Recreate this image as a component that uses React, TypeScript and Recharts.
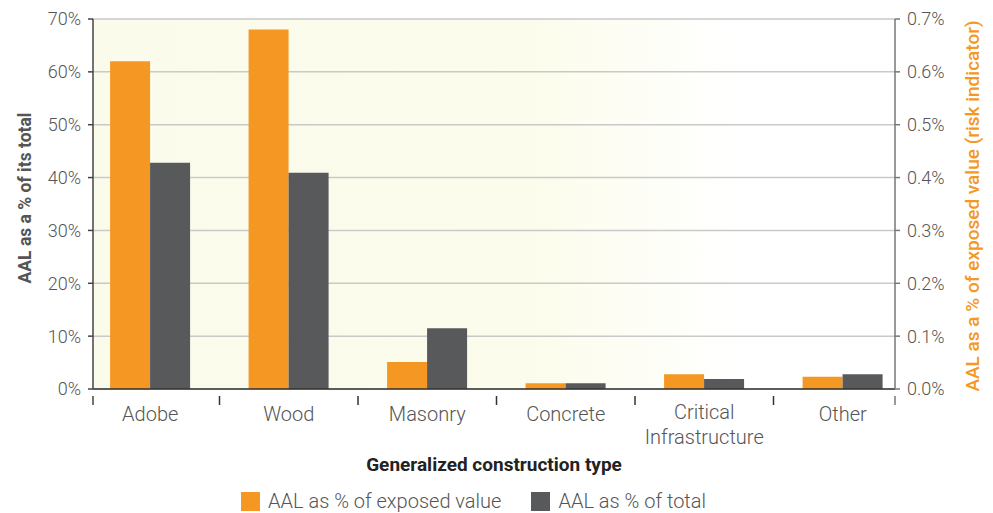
import React from 'react'
import { BarChart, Bar, XAxis, YAxis, CartesianGrid } from 'recharts'

// construction types and the two AAL measures
const categories = ['Adobe', 'Wood', 'Masonry', 'Concrete', 'Critical\nInfrastructure', 'Other']
const exposedValuePct = [0.62, 0.68, 0.051, 0.011, 0.028, 0.023]
const totalPct = [42.8, 40.9, 11.5, 1.1, 1.9, 2.8]
const leftTicks = [0, 10, 20, 30, 40, 50, 60, 70]
const rightTicks = [0, 0.1, 0.2, 0.3, 0.4, 0.5, 0.6, 0.7]

const seriesNames = ['AAL as % of exposed value', 'AAL as % of total']
const ORANGE = '#F49823'
const GRAY = '#58595B'
const FONT = 'Roboto, "DejaVu Sans", sans-serif'

const W = 993
const H = 513
const MARGIN = { top: 19, right: 43, bottom: 64, left: 43 }
const LEFT_W = 50
const RIGHT_W = 55
const X_H = 60
const PAD = { left: -12, right: -17 }
const PLOT_LEFT = MARGIN.left + LEFT_W
const PLOT_RIGHT = W - MARGIN.right - RIGHT_W
const HALF_BAND = (PLOT_RIGHT - PLOT_LEFT - PAD.left - PAD.right) / categories.length / 2

const data = categories.map((name, i) => ({
  name,
  exposed: exposedValuePct[i],
  total: totalPct[i],
}))

function CategoryTick(props: any) {
  const { x, y, payload, index } = props
  const lines = String(payload.value).split('\n')
  return (
    <g>
      {index > 0 && (
        <line x1={x - HALF_BAND} x2={x - HALF_BAND} y1={y - 1} y2={y + 8} stroke="#333" strokeWidth={1.5} />
      )}
      {index === 0 && <line x1={PLOT_LEFT} x2={PLOT_LEFT} y1={y - 1} y2={y + 8} stroke="#444" strokeWidth={1.5} />}
      {index === categories.length - 1 && (
        <line x1={PLOT_RIGHT} x2={PLOT_RIGHT} y1={y - 1} y2={y + 8} stroke="#777" strokeWidth={1.5} />
      )}
      {lines.map((l, k) => (
        <text
          key={k}
          x={x}
          y={y + (lines.length > 1 ? 22 : 24) + k * 25}
          textAnchor="middle"
          fill="#555"
          fontSize={20}
          fontWeight={300}
          fontFamily={FONT}
        >
          {l}
        </text>
      ))}
    </g>
  )
}

function AxisTitle({ viewBox, value, dx, dy = 0, color, size, weight }: any) {
  const cx = viewBox.x + dx
  const cy = viewBox.y + viewBox.height / 2 + dy
  return (
    <text
      x={cx}
      y={cy}
      transform={`rotate(-90 ${cx} ${cy})`}
      textAnchor="middle"
      dominantBaseline="central"
      fill={color}
      fontSize={size}
      fontWeight={weight}
      fontFamily={FONT}
    >
      {value}
    </text>
  )
}

export default function App() {
  const tickStyle = { fill: '#555', fontSize: 18, fontWeight: 300, fontFamily: FONT }
  return (
    <div style={{ position: 'absolute', left: 0, top: 0, width: W, height: H, background: '#fff' }}>
      <BarChart width={W} height={H} data={data} margin={MARGIN} barGap={0} barCategoryGap="21%">
        <defs>
          <linearGradient id="plotBg" x1="0" y1="0" x2="1" y2="0">
            <stop offset="0%" stopColor="#FBFBEC" />
            <stop offset="55%" stopColor="#FCFCEC" />
            <stop offset="80%" stopColor="#FFFFFF" />
          </linearGradient>
        </defs>
        <CartesianGrid
          yAxisId="left"
          vertical={false}
          stroke="#C9C9C9"
          strokeWidth={1.5}
          fill="url(#plotBg)"
          fillOpacity={1}
        />
        <XAxis
          dataKey="name"
          height={X_H}
          padding={PAD}
          interval={0}
          tickLine={false}
          axisLine={{ stroke: '#333', strokeWidth: 1.5 }}
          tick={(p: any) => <CategoryTick {...p} />}
          label={{
            value: 'Generalized construction type',
            position: 'bottom',
            offset: 9,
            fill: '#222',
            fontSize: 19,
            fontWeight: 700,
            fontFamily: FONT,
          }}
        />
        <YAxis
          yAxisId="left"
          orientation="left"
          width={LEFT_W}
          domain={[0, 70]}
          ticks={leftTicks}
          tickFormatter={(v: number) => `${v}%`}
          tickSize={5}
          tickMargin={7}
          tick={tickStyle}
          axisLine={{ stroke: '#444', strokeWidth: 1.5 }}
          tickLine={{ stroke: '#444', strokeWidth: 1.5 }}
          label={(p: any) => (
            <AxisTitle {...p} value="AAL as a % of its total" dx={-18} dy={-6} size={17.5} weight={700} color="#555" />
          )}
        />
        <YAxis
          yAxisId="right"
          orientation="right"
          width={RIGHT_W}
          domain={[0, 0.7]}
          ticks={rightTicks}
          tickFormatter={(v: number) => `${v.toFixed(1)}%`}
          tickSize={5}
          tickMargin={7}
          tick={tickStyle}
          axisLine={{ stroke: '#777', strokeWidth: 1.5 }}
          tickLine={{ stroke: '#777', strokeWidth: 1.5 }}
          label={(p: any) => (
            <AxisTitle
              {...p}
              value="AAL as a % of exposed value (risk indicator)"
              dx={77}
              dy={2}
              size={19}
              weight={500}
              color={ORANGE}
            />
          )}
        />
        <Bar yAxisId="right" dataKey="exposed" name={seriesNames[0]} fill={ORANGE} isAnimationActive={false} />
        <Bar yAxisId="left" dataKey="total" name={seriesNames[1]} fill={GRAY} isAnimationActive={false} />
      </BarChart>
      <div
        style={{
          position: 'absolute',
          top: 491,
          left: 241,
          display: 'flex',
          gap: 30,
          fontFamily: FONT,
          fontWeight: 300,
          fontSize: 20,
          color: '#555',
          lineHeight: '20px',
        }}
      >
        {seriesNames.map((n, i) => (
          <div key={n} style={{ display: 'flex', alignItems: 'center', gap: 8 }}>
            <span style={{ width: 19, height: 19, background: i === 0 ? ORANGE : GRAY, display: 'inline-block' }} />
            <span>{n}</span>
          </div>
        ))}
      </div>
    </div>
  )
}
